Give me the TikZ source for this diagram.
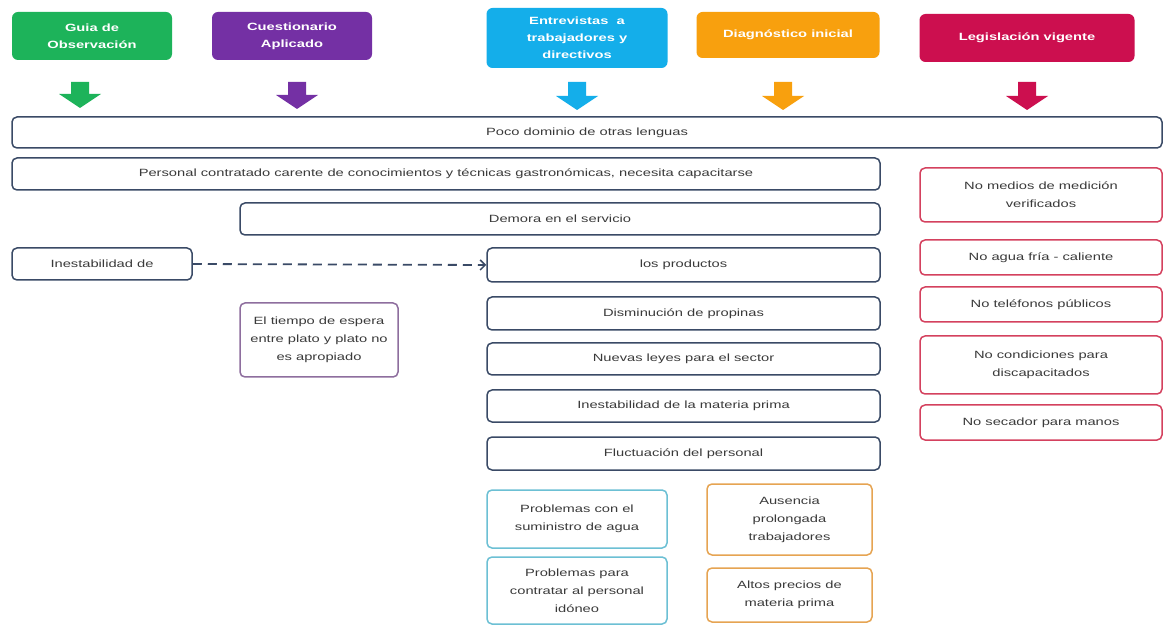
\documentclass[tikz,border=0pt]{standalone}
\usepackage{fontspec}
\setmainfont{Liberation Sans}[FakeStretch=1.4]
\usetikzlibrary{arrows.meta}
\definecolor{cgreen}{HTML}{1DB35A}
\definecolor{cpurple}{HTML}{7430A4}
\definecolor{ccyan}{HTML}{14AEEA}
\definecolor{corange}{HTML}{F8A00E}
\definecolor{cred}{HTML}{CC0F4F}
\definecolor{cbox}{HTML}{3A4A66}
\definecolor{ctext}{HTML}{3A3A3A}
\definecolor{cpurpb}{HTML}{8E6E9E}
\definecolor{ccyanb}{HTML}{6CC0D4}
\definecolor{coranb}{HTML}{E6A452}
\definecolor{credb}{HTML}{D4415E}
\newcommand\blockarr[4]{%
  \fill[#4] (#1-9,#2) -- (#1+9,#2) -- (#1+9,#3-14) -- (#1+21,#3-14) -- (#1,#3)
    -- (#1-21,#3-14) -- (#1-9,#3-14) -- cycle;}
\begin{document}
\begin{tikzpicture}[x=1pt,y=-1pt,
  hdr/.style={rounded corners=6pt, text=white, font=\bfseries\fontsize{10.5}{17}\selectfont, align=center, inner sep=0pt},
  bx/.style={draw=cbox, line width=1.5pt, rounded corners=5pt, fill=white, text=ctext, font=\fontsize{10.5}{18}\selectfont, align=center, inner sep=0pt},
  pbx/.style={bx, draw=cpurpb},
  cbx/.style={bx, draw=ccyanb},
  obx/.style={bx, draw=coranb},
  rbx/.style={bx, draw=credb},
]
\useasboundingbox[fill=white] (0,0) rectangle (1168,628);

% headers
\node[hdr, fill=cgreen, minimum width=160pt, minimum height=48pt] (guia) at (92,36) {Guia de\\Observación};
\node[hdr, fill=cpurple, minimum width=160pt, minimum height=48pt] (cuest) at (292,36) {Cuestionario\\Aplicado};
\node[hdr, fill=ccyan, minimum width=181pt, minimum height=60pt] (entre) at (577,38) {Entrevistas \ a\\trabajadores y\\directivos};
\node[hdr, fill=corange, minimum width=183pt, minimum height=46pt] (diag) at (788,35) {Diagnóstico inicial};
\node[hdr, fill=cred, minimum width=215pt, minimum height=48pt] (legis) at (1027,38) {Legislación vigente};

% block arrows
\blockarr{80}{82}{108}{cgreen}
\blockarr{297}{82}{109}{cpurple}
\blockarr{577}{82}{110}{ccyan}
\blockarr{783}{82}{110}{corange}
\blockarr{1027}{82}{110}{cred}

% main boxes
\node[bx, minimum width=1150pt, minimum height=31pt] (poco) at (587,132.5) {Poco dominio de otras lenguas};
\node[bx, minimum width=868pt, minimum height=32pt] (pers) at (446,174) {Personal contratado carente de conocimientos y técnicas gastronómicas, necesita capacitarse};
\node[bx, minimum width=640pt, minimum height=32pt] (demora) at (560,219) {Demora en el servicio};
\node[bx, minimum width=180pt, minimum height=32pt] (inest) at (102,264) {Inestabilidad de};
\node[bx, minimum width=393pt, minimum height=34pt] (prod) at (683.5,265) {los productos};
\node[pbx, minimum width=158pt, minimum height=74pt] (tiempo) at (319,340) {El tiempo de espera\\entre plato y plato no\\es apropiado};
\node[bx, minimum width=393pt, minimum height=33pt] (dism) at (683.5,313.5) {Disminución de propinas};
\node[bx, minimum width=393pt, minimum height=32pt] (leyes) at (683.5,359) {Nuevas leyes para el sector};
\node[bx, minimum width=393pt, minimum height=32pt] (mat) at (683.5,406) {Inestabilidad de la materia prima};
\node[bx, minimum width=393pt, minimum height=33pt] (fluc) at (683.5,453.5) {Fluctuación del personal};

% bottom boxes
\node[cbx, minimum width=180pt, minimum height=58pt] (sumin) at (577,519) {Problemas con el\\suministro de agua};
\node[cbx, minimum width=180pt, minimum height=67pt] (contr) at (577,590.5) {Problemas para\\contratar al personal\\idóneo};
\node[obx, minimum width=165pt, minimum height=71pt] (ausen) at (789.5,519.5) {Ausencia\\prolongada\\trabajadores};
\node[obx, minimum width=165pt, minimum height=54pt] (altos) at (789.5,595) {Altos precios de\\materia prima};

% legislation boxes
\node[rbx, minimum width=242pt, minimum height=54pt] (medios) at (1041,195) {No medios de medición\\verificados};
\node[rbx, minimum width=242pt, minimum height=35pt] (agua) at (1041,257.5) {No agua fría - caliente};
\node[rbx, minimum width=242pt, minimum height=35pt] (telef) at (1041,304.5) {No teléfonos públicos};
\node[rbx, minimum width=242pt, minimum height=58pt] (cond) at (1041,365) {No condiciones para\\discapacitados};
\node[rbx, minimum width=242pt, minimum height=35pt] (secad) at (1041,422.5) {No secador para manos};

% dashed connector
\draw[cbox, line width=1.8pt, dash pattern=on 9pt off 6pt, -{Straight Barb[length=5pt,width=10pt,line width=1.5pt]}] (inest.east) -- (prod.west);
\end{tikzpicture}
\end{document}
